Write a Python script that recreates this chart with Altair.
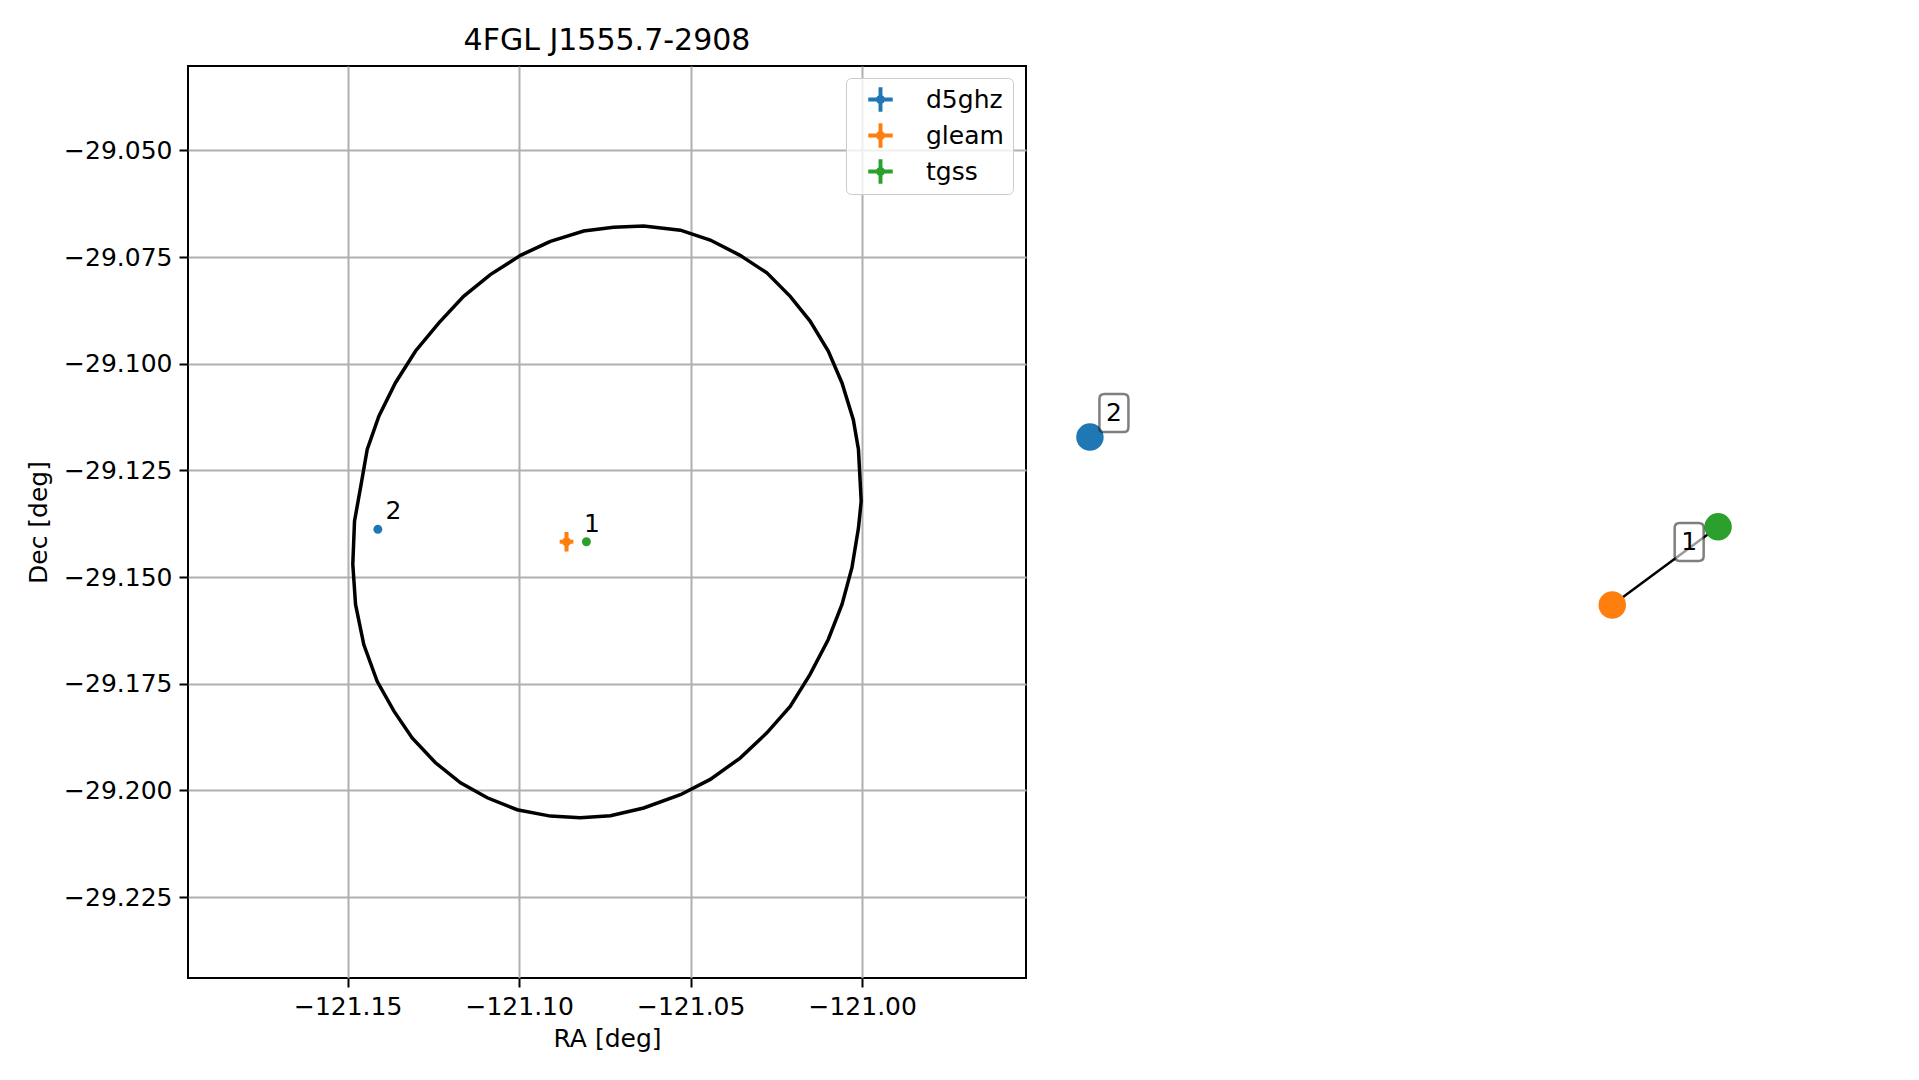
import altair as alt
import pandas as pd

# ---------------- data ----------------
title_text = "4FGL J1555.7-2908"

catalog = ["d5ghz", "gleam", "tgss"]
colors = ["#1f77b4", "#ff7f0e", "#2ca02c"]
src_ra = [-121.1412, -121.0862, -121.0804]
src_dec = [-29.1388, -29.1417, -29.1417]
src_ra_err = [0.0002, 0.0020, 0.0009]
src_dec_err = [0.0002, 0.0023, 0.0008]
src_group = ["2", "1", "1"]

# 4FGL error ellipse outline (deg)
ell_ra = [-121.0909, -121.0812, -121.0725, -121.0637, -121.0530, -121.0443, -121.0356,
          -121.0278, -121.0210, -121.0152, -121.0099, -121.0059, -121.0026, -121.0011,
          -121.0003, -121.0011, -121.0030, -121.0059, -121.0099, -121.0152, -121.0210,
          -121.0278, -121.0356, -121.0443, -121.0530, -121.0637, -121.0734, -121.0822,
          -121.0909, -121.1006, -121.1093, -121.1171, -121.1244, -121.1312, -121.1365,
          -121.1414, -121.1453, -121.1477, -121.1485, -121.1480, -121.1460, -121.1443,
          -121.1409, -121.1361, -121.1302, -121.1234, -121.1162, -121.1084, -121.0996,
          -121.0909]
ell_dec = [-29.0713, -29.0689, -29.0680, -29.0677, -29.0687, -29.0710, -29.0746,
           -29.0787, -29.0842, -29.0900, -29.0970, -29.1045, -29.1131, -29.1201,
           -29.1322, -29.1385, -29.1478, -29.1564, -29.1646, -29.1728, -29.1803,
           -29.1865, -29.1924, -29.1974, -29.2010, -29.2041, -29.2059, -29.2064,
           -29.2060, -29.2045, -29.2017, -29.1982, -29.1935, -29.1877, -29.1814,
           -29.1744, -29.1658, -29.1564, -29.1470, -29.1369, -29.1279, -29.1201,
           -29.1123, -29.1045, -29.0970, -29.0904, -29.0842, -29.0791, -29.0746,
           -29.0713]

x_ticks = [-121.15, -121.10, -121.05, -121.00]
y_ticks = [-29.050, -29.075, -29.100, -29.125, -29.150, -29.175, -29.200, -29.225]
x_domain = [-121.19654, -120.95226]
y_domain = [-29.24394, -29.03022]

# association graph (layout units)
node_x = [-1.0, 0.362, 0.638]
node_y = [0.224, -0.214, -0.010]
edge_from = ["gleam"]
edge_to = ["tgss"]
gx_domain = [-1.1341, 1.1084]
gy_domain = [-1.1864, 1.1917]

# ---------------- tables ----------------
src = pd.DataFrame({
    "catalog": catalog, "ra": src_ra, "dec": src_dec,
    "ra_lo": [r - e for r, e in zip(src_ra, src_ra_err)],
    "ra_hi": [r + e for r, e in zip(src_ra, src_ra_err)],
    "dec_lo": [d - e for d, e in zip(src_dec, src_dec_err)],
    "dec_hi": [d + e for d, e in zip(src_dec, src_dec_err)],
    "group": src_group,
})
ell = pd.DataFrame({"ra": ell_ra, "dec": ell_dec, "i": list(range(len(ell_ra)))})

nodes = pd.DataFrame({"catalog": catalog, "gx": node_x, "gy": node_y, "group": src_group})
pos = {c: (x, y) for c, x, y in zip(catalog, node_x, node_y)}
edges = pd.DataFrame({
    "x1": [pos[a][0] for a in edge_from], "y1": [pos[a][1] for a in edge_from],
    "x2": [pos[b][0] for b in edge_to], "y2": [pos[b][1] for b in edge_to],
})

FONT = "DejaVu Sans"
color_scale = alt.Scale(domain=catalog, range=colors)

xs = alt.Scale(domain=x_domain, nice=False, zero=False)
ys = alt.Scale(domain=y_domain, nice=False, zero=False)

axis_common = dict(
    labelFontSize=25, labelFont=FONT, labelColor="black",
    titleFontSize=25, titleFont=FONT, titleFontWeight="normal", titleColor="black",
    tickSize=9, tickWidth=2, tickColor="black",
    gridColor="#b0b0b0", gridWidth=2, domain=False,
    labelFlush=False, labelOverlap=False,
)
x_axis = alt.Axis(values=x_ticks, format=".2f", title="RA [deg]",
                  labelPadding=7, titlePadding=7, **axis_common)
y_axis = alt.Axis(values=y_ticks, format=".3f", title="Dec [deg]",
                  labelPadding=7, titlePadding=12, **axis_common)

plus_path = ("M-1,-0.16L-0.16,-0.16L-0.16,-1L0.16,-1L0.16,-0.16L1,-0.16L1,0.16L0.16,0.16"
             "L0.16,1L-0.16,1L-0.16,0.16L-1,0.16Z"
             "M0.37,0A0.37,0.37,0,1,1,-0.37,0A0.37,0.37,0,1,1,0.37,0Z")

legend = alt.Legend(title=None, orient="none", legendX=658, legendY=12,
                    symbolType=plus_path, symbolSize=600, symbolStrokeWidth=0,
                    labelFontSize=25, labelFont=FONT, labelColor="black",
                    padding=9, rowPadding=10, symbolOffset=13, labelOffset=33,
                    strokeColor="#cccccc", fillColor="rgba(255,255,255,0.8)",
                    cornerRadius=5)

base = alt.Chart(src)

ellipse = alt.Chart(ell).mark_line(color="black", strokeWidth=3.5).encode(
    x=alt.X("ra:Q", scale=xs, axis=x_axis),
    y=alt.Y("dec:Q", scale=ys, axis=y_axis),
    order=alt.Order("i:Q"),
)
err_x = base.mark_rule(strokeWidth=4).encode(
    x=alt.X("ra_lo:Q", scale=xs), x2="ra_hi:Q", y=alt.Y("dec:Q", scale=ys),
    color=alt.Color("catalog:N", scale=color_scale, legend=None),
)
err_y = base.mark_rule(strokeWidth=4).encode(
    y=alt.Y("dec_lo:Q", scale=ys), y2="dec_hi:Q", x=alt.X("ra:Q", scale=xs),
    color=alt.Color("catalog:N", scale=color_scale, legend=None),
)
pts = base.mark_point(filled=True, size=80, opacity=1).encode(
    x=alt.X("ra:Q", scale=xs), y=alt.Y("dec:Q", scale=ys),
    color=alt.Color("catalog:N", scale=color_scale, legend=legend),
)
labels = base.transform_aggregate(
    ra="mean(ra)", dec="mean(dec)", groupby=["group"]
).mark_text(dx=15.5, dy=-18, fontSize=25, font=FONT, align="center",
            baseline="middle", color="black").encode(
    x=alt.X("ra:Q", scale=xs), y=alt.Y("dec:Q", scale=ys), text="group:N",
)

left = alt.layer(pts, ellipse, err_x, err_y, labels).properties(
    width=838, height=912,
    title=alt.TitleParams(title_text, fontSize=30, font=FONT, fontWeight="normal",
                          color="black", offset=-14, baseline="alphabetic",
                          anchor="middle"),
    view=alt.ViewBackground(stroke="black", strokeWidth=2),
)

# ---- right: association graph ----
gxs = alt.Scale(domain=gx_domain, nice=False, zero=False)
gys = alt.Scale(domain=gy_domain, nice=False, zero=False)

rr = 0.763
box_path = (f"M-0.5,-1L0.5,-1Q{rr},-1 {rr},-0.74L{rr},0.74Q{rr},1 0.5,1L-0.5,1"
            f"Q-{rr},1 -{rr},0.74L-{rr},-0.74Q-{rr},-1 -0.5,-1Z")

edge_layer = alt.Chart(edges).mark_rule(color="black", strokeWidth=2.5).encode(
    x=alt.X("x1:Q", scale=gxs, axis=None), y=alt.Y("y1:Q", scale=gys, axis=None),
    x2="x2:Q", y2="y2:Q",
)
node_layer = alt.Chart(nodes).mark_point(filled=True, size=755, opacity=1).encode(
    x=alt.X("gx:Q", scale=gxs, axis=None), y=alt.Y("gy:Q", scale=gys, axis=None),
    color=alt.Color("catalog:N", scale=color_scale, legend=None),
)
gnode = alt.Chart(nodes).transform_aggregate(
    gx="mean(gx)", gy="mean(gy)", groupby=["group"]
)
box_layer = gnode.mark_point(shape=box_path, size=1444, fill="white", fillOpacity=0.6,
                             stroke="black", strokeOpacity=0.5, strokeWidth=2.5,
                             opacity=1, xOffset=24, yOffset=-24).encode(
    x=alt.X("gx:Q", scale=gxs, axis=None), y=alt.Y("gy:Q", scale=gys, axis=None),
)
gtext = gnode.mark_text(dx=24, dy=-24, fontSize=25, font=FONT, align="center",
                        baseline="middle", color="black").encode(
    x=alt.X("gx:Q", scale=gxs, axis=None), y=alt.Y("gy:Q", scale=gys, axis=None),
    text="group:N",
)
right = alt.layer(edge_layer, node_layer, box_layer, gtext).properties(
    width=860, height=912,
    view=alt.ViewBackground(stroke=None),
)

chart = alt.hconcat(left, right, spacing=11.5).resolve_scale(
    color="independent", x="independent", y="independent"
).resolve_legend(color="independent").properties(
    padding={"left": 17, "top": 17, "right": 5, "bottom": 5},
).configure(font=FONT).configure_view(stroke=None)

chart.save("out.html", embed_options={"renderer": "svg", "actions": False})
